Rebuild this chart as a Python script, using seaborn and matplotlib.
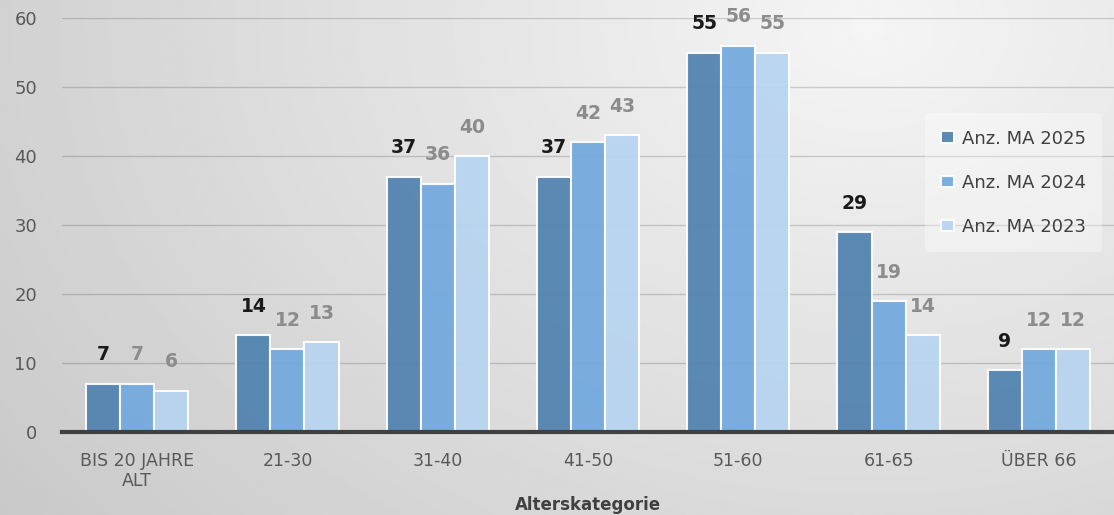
import matplotlib
matplotlib.use("Agg")
import matplotlib.pyplot as plt
import numpy as np
import pandas as pd
import seaborn as sns

categories = ["BIS 20 JAHRE\nALT", "21-30", "31-40", "41-50", "51-60", "61-65", "ÜBER 66"]
series = ["Anz. MA 2025", "Anz. MA 2024", "Anz. MA 2023"]
ma_2025 = [7, 14, 37, 37, 55, 29, 9]
ma_2024 = [7, 12, 36, 42, 56, 19, 12]
ma_2023 = [6, 13, 40, 43, 55, 14, 12]
colors = ["#5082b0", "#72a9de", "#b7d4f0"]
label_colors = ["#1a1a1a", "#8c8c8c", "#8c8c8c"]

df = pd.DataFrame({
    "Alterskategorie": categories * 3,
    "Serie": [s for s in series for _ in categories],
    "Wert": ma_2025 + ma_2024 + ma_2023,
})

sns.set_theme(style="white")
plt.rcParams["font.family"] = ["DejaVu Sans"]

fig = plt.figure(figsize=(11.14, 5.15), dpi=100)

# background gradient (light top right, darker bottom left)
bg = fig.add_axes([0, 0, 1, 1], zorder=-10)
yy, xx = np.mgrid[0:1:200j, 0:1:400j]
dist = np.sqrt(((xx - 0.78) * 1.6) ** 2 + (yy - 0.05) ** 2)
shade = 0.96 - 0.11 * dist
bg.imshow(shade, cmap="gray", vmin=0, vmax=1, aspect="auto", extent=[0, 1, 0, 1], origin="upper")
bg.axis("off")

ax = fig.add_axes([0.0557, 0.161, 0.9443, 0.804])
ax.patch.set_alpha(0)

sns.barplot(data=df, x="Alterskategorie", y="Wert", hue="Serie", palette=colors,
            saturation=1, width=0.68, edgecolor="white", linewidth=1.5,
            alpha=0.93, ax=ax, zorder=3)

for cont, lc in zip(ax.containers, label_colors):
    ax.bar_label(cont, padding=14, color=lc, fontsize=13.5, fontweight="bold")

ax.set_ylim(0, 60)
ax.set_xlim(-0.5, 6.5)
ax.set_yticks(range(0, 61, 10))
ax.yaxis.grid(True, color="black", alpha=0.16, linewidth=1, zorder=0)
ax.set_axisbelow(True)
for side in ["top", "right", "left"]:
    ax.spines[side].set_visible(False)
ax.spines["bottom"].set_color("#404040")
ax.spines["bottom"].set_linewidth(3)
ax.spines["bottom"].set_zorder(5)
ax.tick_params(axis="both", length=0, colors="#595959", labelsize=12.5)
ax.tick_params(axis="x", pad=14)
ax.tick_params(axis="y", pad=18, labelsize=13)
ax.set_ylabel("")
ax.set_xlabel("Alterskategorie", fontsize=12, fontweight="bold", color="#404040", labelpad=4)

leg = ax.legend(loc="upper left", bbox_to_anchor=(0.830, 0.78), bbox_transform=fig.transFigure,
                frameon=True, fontsize=13, handlelength=0.75, handleheight=0.6,
                handletextpad=0.4, labelspacing=1.45, borderpad=0.9, borderaxespad=0)
leg.get_frame().set_facecolor("white")
leg.get_frame().set_alpha(0.35)
leg.get_frame().set_linewidth(0)
for t in leg.get_texts():
    t.set_color("#404040")

fig.savefig("out.png", dpi=100)
